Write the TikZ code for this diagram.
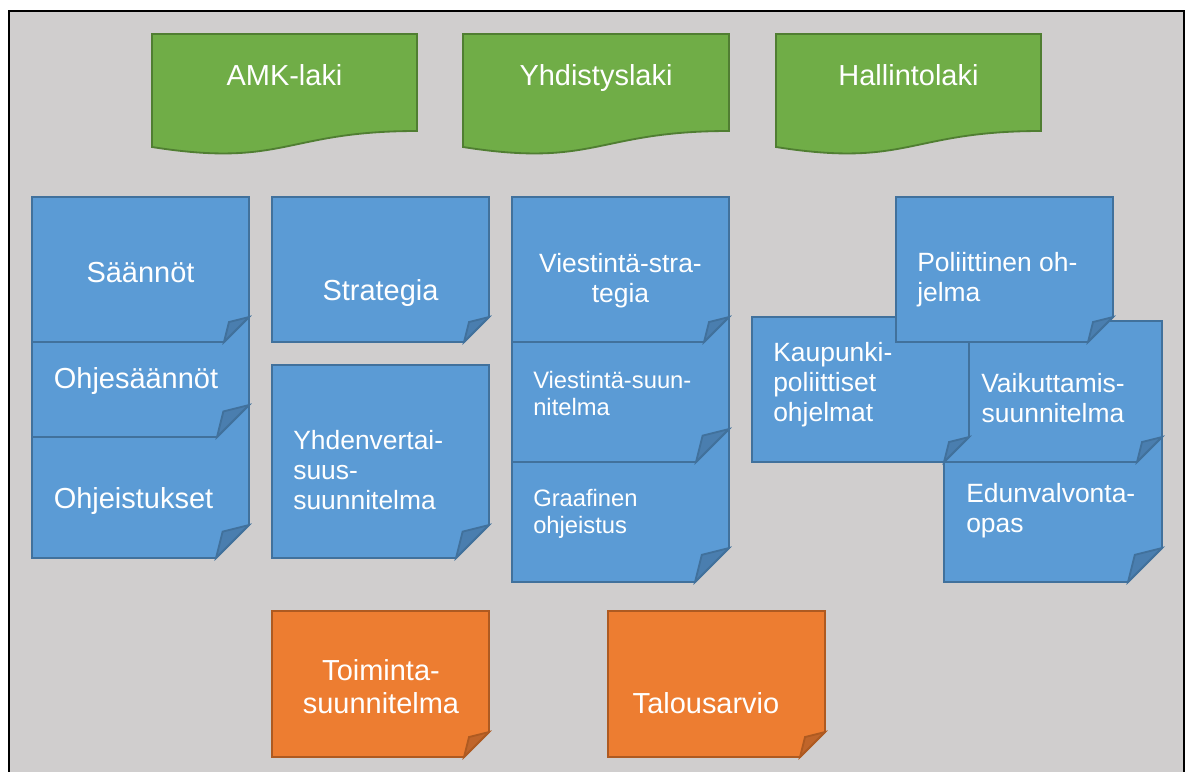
\documentclass[tikz,border=0pt]{standalone}
\usepackage{fontspec}
\setmainfont{Liberation Sans}
\usepackage{tikz}

\definecolor{framegray}{HTML}{D0CECE}
\definecolor{lawgreen}{HTML}{70AD47}
\definecolor{lawline}{HTML}{507E32}
\definecolor{noteblue}{HTML}{5B9BD5}
\definecolor{noteblueline}{HTML}{41719C}
\definecolor{notebluefold}{HTML}{4A7EAF}
\definecolor{noteorange}{HTML}{ED7D31}
\definecolor{noteorangeline}{HTML}{AE5A21}
\definecolor{noteorangefold}{HTML}{C0652A}

% sticky note: left, top, right, bottom, fold size, colour prefix
\newcommand{\foldnote}[6]{%
  \filldraw[fill=#6, draw=#6line, notestroke] (#1,#2) -- (#3,#2) -- (#3,#4-#5) -- (#3-#5,#4) -- (#1,#4) -- cycle;
  \filldraw[fill=#6fold, draw=#6line, notestroke] (#3-#5,#4) -- (#3-0.8*#5,#4-0.8*#5) -- (#3,#4-#5) -- cycle;
}
% document with wavy bottom: left, top, right
\newcommand{\lawdoc}[3]{%
  \filldraw[fill=lawgreen, draw=lawline, notestroke] (#1,#2) -- (#3,#2) -- (#3,#2+97)
    .. controls ({(#1+#3)/2},#2+97) and ({(#1+#3)/2},#2+134) .. (#1,#2+113) -- cycle;
}

\begin{document}
\begin{tikzpicture}[
    x=0.025cm, y=-0.025cm,
    notestroke/.style={line width=1.3pt},
    big/.style={text=white, inner sep=0pt, font=\fontsize{20.6}{23.5}\selectfont},
    mid/.style={text=white, inner sep=0pt, font=\fontsize{18.8}{21.3}\selectfont},
    small/.style={text=white, inner sep=0pt, font=\fontsize{16.9}{19.2}\selectfont}
]
\useasboundingbox (0,0) rectangle (1191,771);
\filldraw[fill=framegray, draw=black, line width=1.6pt] (9,11) rectangle (1184,800);

% laws
\lawdoc{152}{34}{417}
\lawdoc{463}{34}{729}
\lawdoc{776}{34}{1041}

% notes, back to front
\foldnote{32}{363}{249}{558}{33}{noteblue}
\foldnote{32}{245}{249}{437}{32}{noteblue}
\foldnote{32}{197}{249}{342}{25}{noteblue}
\foldnote{272}{197}{489}{342}{25}{noteblue}
\foldnote{272}{365}{489}{558}{33}{noteblue}
\foldnote{512}{390}{729}{582}{34}{noteblue}
\foldnote{512}{270}{729}{462}{33}{noteblue}
\foldnote{512}{197}{729}{342}{25}{noteblue}
\foldnote{944}{390}{1162}{582}{34}{noteblue}
\foldnote{945}{321}{1162}{462}{25}{noteblue}
\foldnote{752}{317}{969}{462}{25}{noteblue}
\foldnote{896}{197}{1113}{342}{25}{noteblue}
\foldnote{272}{611}{489}{757}{25}{noteorange}
\foldnote{608}{611}{825}{757}{25}{noteorange}

% texts
\node[big, anchor=north] (amk) at (284.5,64) {AMK-laki};
\node[big, anchor=north] (yhdistys) at (596,64) {Yhdistyslaki};
\node[big, anchor=north] (hallinto) at (908.5,64) {Hallintolaki};

\node[big, anchor=north] (saannot) at (140.5,262) {Säännöt};
\node[big, anchor=north] (ohjesaannot) at (136,367) {Ohjesäännöt};
\node[big, anchor=north] (ohjeistukset) at (133.5,487) {Ohjeistukset};

\node[big, anchor=north] (strategia) at (380.5,279) {Strategia};
\node[mid, anchor=north west, align=left] (yhdenv) at (293,430) {Yhdenvertai-\\suus-\\suunnitelma};

\node[mid, anchor=north, align=center] (vstrat) at (620.5,253) {Viestintä-stra-\\tegia};
\node[small, anchor=north west, align=left] (vsuun) at (533,371) {Viestintä-suun-\\nitelma};
\node[small, anchor=north west, align=left] (graaf) at (533,489) {Graafinen\\ohjeistus};

\node[mid, anchor=north west, align=left] (kaup) at (773,342) {Kaupunki-\\poliittiset\\ohjelmat};
\node[mid, anchor=north west, align=left] (polit) at (917,252) {Poliittinen oh-\\jelma};
\node[mid, anchor=north, align=center] (vaik) at (1053,373) {Vaikuttamis-\\suunnitelma};
\node[mid, anchor=north west, align=left] (edun) at (966,483) {Edunvalvonta-\\opas};

\node[big, anchor=north, align=center] (toim) at (381,659) {Toiminta-\\suunnitelma};
\node[big, anchor=north] (talous) at (706,692) {Talousarvio};
\end{tikzpicture}
\end{document}
